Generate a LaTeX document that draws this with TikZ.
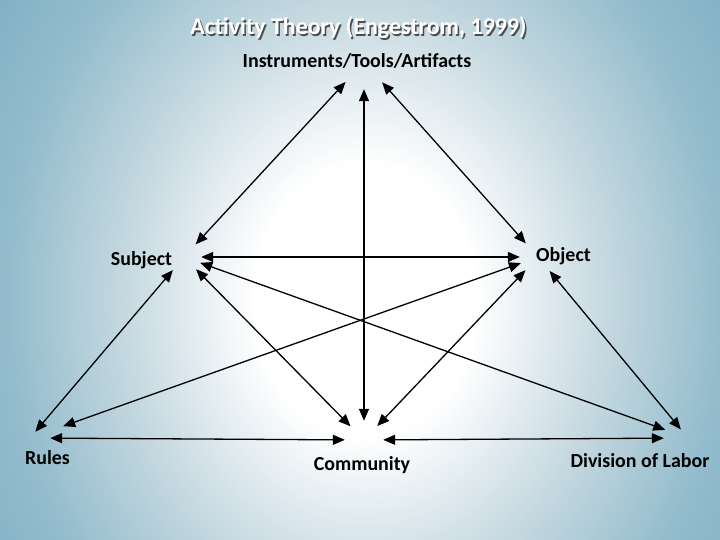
\documentclass[tikz,border=0pt]{standalone}
\usepackage{fontspec}
\setmainfont{Carlito}
\usepackage{tikz}
\usetikzlibrary{arrows.meta}
\definecolor{bgmid}{RGB}{198,217,225}
\definecolor{bgedge}{RGB}{147,188,204}
\definecolor{bgcorner}{RGB}{126,175,195}
% tikz fits the path onto the middle 50bp of the shading
\pgfdeclareradialshading{slidebg}{\pgfpoint{0bp}{0bp}}{color(0bp)=(white); color(6bp)=(white); color(13bp)=(bgmid); color(19.5bp)=(bgedge); color(25bp)=(bgcorner); color(50bp)=(bgcorner)}

\begin{document}
\begin{tikzpicture}[x=1bp,y=1bp,
		>={Triangle[length=12bp,width=10bp]},
		link/.style={<->,line width=1.3bp},
		hub/.style={circle,inner sep=0pt,minimum size=#1},
		lbl/.style={font=\bfseries\fontsize{20}{24}\selectfont,anchor=base},
		headline/.style={font=\bfseries\fontsize{24}{28}\selectfont,anchor=base}]
				\useasboundingbox (0,0) rectangle (720,540);
				\begin{scope}
					\clip (0,0) rectangle (720,540);
					\shade[shading=slidebg] (365,240) ellipse (460 and 560);
				\end{scope}
				
				% title with its shadow
				\node[headline,text=black!70] (titleshadow) at (360,503.5) {Activity Theory (Engestrom, 1999)};
				\node[headline,text=white] (title) at (358.5,505) {Activity Theory (Engestrom, 1999)};
				
				\node[lbl] (instlabel) at (357,472) {Instruments/Tools/Artifacts};
				\node[lbl] (subjlabel) at (141.5,274) {Subject};
				\node[lbl] (objlabel) at (563.5,278) {Object};
				\node[lbl] (ruleslabel) at (47.5,75) {Rules};
				\node[lbl] (commlabel) at (362,69) {Community};
				\node[lbl] (divlabel) at (640,72) {Division of Labor};
				
				\node[hub=54bp] (inst) at (364,478) {};
				\node[hub=34bp] (subj) at (184,283) {};
				\node[hub=36bp] (obj) at (538,283) {};
				\node[hub=40bp] (rules) at (30,102) {};
				\node[hub=38bp] (comm) at (364,100) {};
				\node[hub=48bp] (div) at (688,102) {};
				
				\draw[link] (subj) -- (inst);
				\draw[link] (inst) -- (obj);
				\draw[link] (inst) -- (comm);
				\draw[link] (subj) -- (obj);
				\draw[link,shorten >=-12bp] (subj) -- (rules);
				\draw[link] (subj) -- (comm);
				\draw[link] (subj) -- (div);
				\draw[link,shorten >=15bp] (obj) -- (rules);
				\draw[link] (obj) -- (comm);
				\draw[link,shorten >=-13bp] (obj) -- (div);
				\draw[link] (rules) -- (comm);
				\draw[link] (comm) -- (div);
			\end{tikzpicture}
\end{document}
